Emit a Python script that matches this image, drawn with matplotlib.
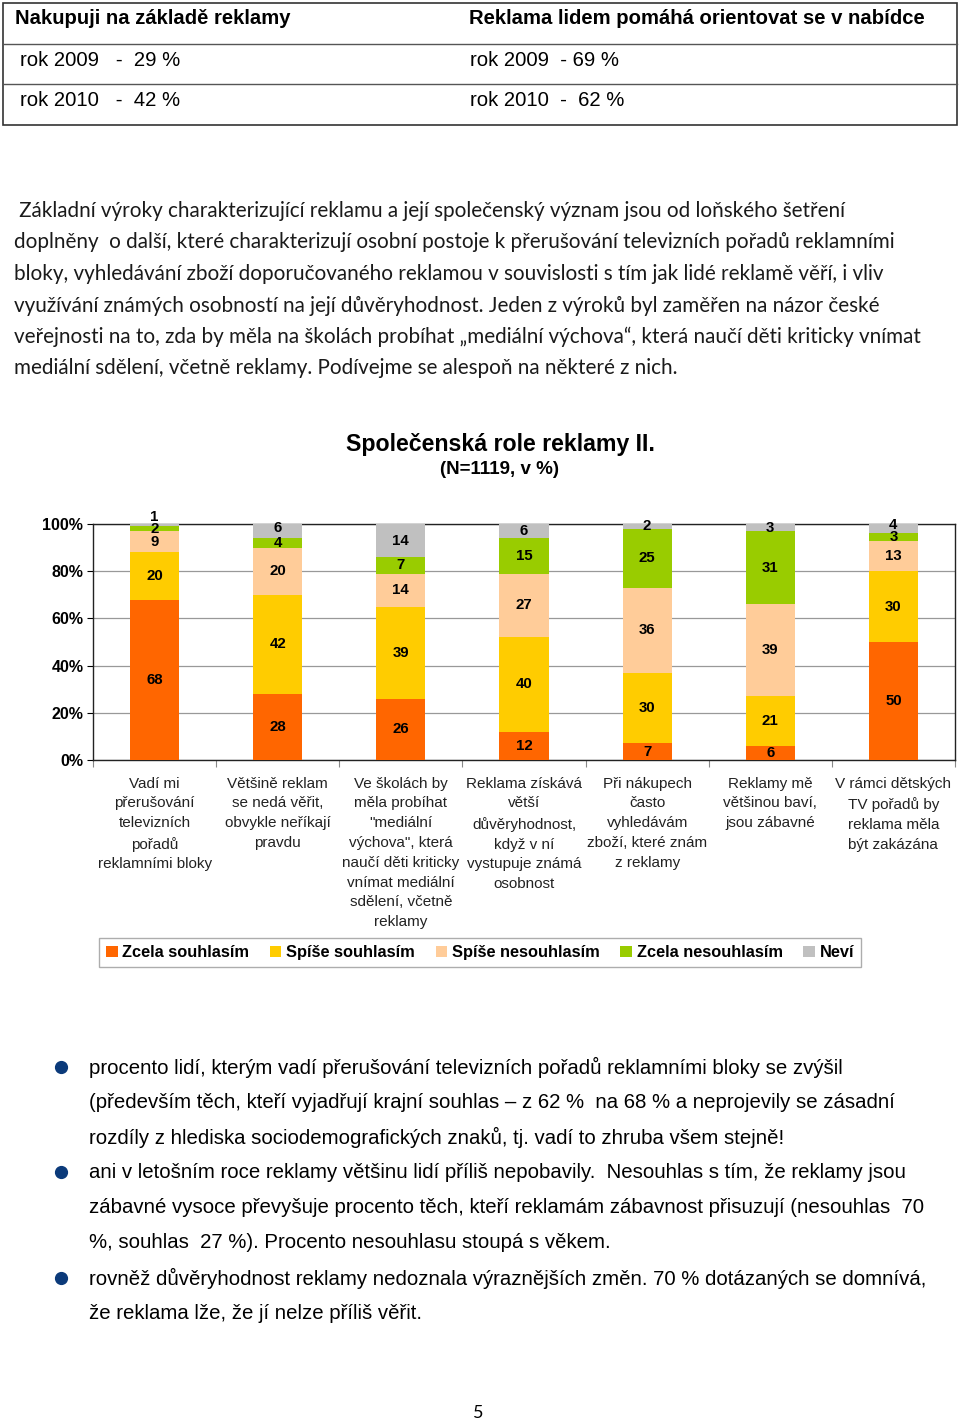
import numpy as np
import matplotlib.pyplot as plt
from matplotlib.patches import Rectangle

# --- data ---
categories = [
    "Vadí mi\npřerušování\ntelevizních\npořadů\nreklamními bloky",
    "Většině reklam\nse nedá věřit,\nobvykle neříkají\npravdu",
    "Ve školách by\nměla probíhat\n\"mediální\nvýchova\", která\nnaučí děti kriticky\nvnímat mediální\nsdělení, včetně\nreklamy",
    "Reklama získává\nvětší\ndůvěryhodnost,\nkdyž v ní\nvystupuje známá\nosobnost",
    "Při nákupech\nčasto\nvyhledávám\nzboží, které znám\nz reklamy",
    "Reklamy mě\nvětšinou baví,\njsou zábavné",
    "V rámci dětských\nTV pořadů by\nreklama měla\nbýt zakázána",
]
series_names = ["Zcela souhlasím", "Spíše souhlasím", "Spíše nesouhlasím",
                "Zcela nesouhlasím", "Neví"]
zcela_souhlasim = [68, 28, 26, 12, 7, 6, 50]
spise_souhlasim = [20, 42, 39, 40, 30, 21, 30]
spise_nesouhlasim = [9, 20, 14, 27, 36, 39, 13]
zcela_nesouhlasim = [2, 4, 7, 15, 25, 31, 3]
nevi = [1, 6, 14, 6, 2, 3, 4]
colors = ["#FF6600", "#FFCC00", "#FFCC99", "#99CC00", "#C0C0C0"]

table_head = ["Nakupuji na základě reklamy", "Reklama lidem pomáhá orientovat se v nabídce"]
table_rows = [["rok 2009   -  29 %", "rok 2009  - 69 %"],
              ["rok 2010   -  42 %", "rok 2010  -  62 %"]]

paragraph = [
    " Základní výroky charakterizující reklamu a její společenský význam jsou od loňského šetření",
    "doplněny  o další, které charakterizují osobní postoje k přerušování televizních pořadů reklamními",
    "bloky, vyhledávání zboží doporučovaného reklamou v souvislosti s tím jak lidé reklamě věří, i vliv",
    "využívání známých osobností na její důvěryhodnost. Jeden z výroků byl zaměřen na názor české",
    "veřejnosti na to, zda by měla na školách probíhat „mediální výchova“, která naučí děti kriticky vnímat",
    "mediální sdělení, včetně reklamy. Podívejme se alespoň na některé z nich.",
]

bullets = [
    ["procento lidí, kterým vadí přerušování televizních pořadů reklamními bloky se zvýšil",
     "(především těch, kteří vyjadřují krajní souhlas – z 62 %  na 68 % a neprojevily se zásadní",
     "rozdíly z hlediska sociodemografických znaků, tj. vadí to zhruba všem stejně!"],
    ["ani v letošním roce reklamy většinu lidí příliš nepobavily.  Nesouhlas s tím, že reklamy jsou",
     "zábavné vysoce převyšuje procento těch, kteří reklamám zábavnost přisuzují (nesouhlas  70",
     "%, souhlas  27 %). Procento nesouhlasu stoupá s věkem."],
    ["rovněž důvěryhodnost reklamy nedoznala výraznějších změn. 70 % dotázaných se domnívá,",
     "že reklama lže, že jí nelze příliš věřit."],
]

W, H = 960, 1426
fig = plt.figure(figsize=(W / 100, H / 100), dpi=100)

# page layer in pixel coordinates
page = fig.add_axes([0, 0, 1, 1])
page.set_xlim(0, W)
page.set_ylim(H, 0)
page.axis("off")

# top table
page.add_patch(Rectangle((3, 3), 954, 122, fill=False, edgecolor="#333333", lw=1.2))
page.plot([3, 957], [43.5, 43.5], color="#555555", lw=1)
page.plot([3, 957], [83.5, 83.5], color="#555555", lw=1)
arial = ["Liberation Sans", "DejaVu Sans"]
page.text(15, 19, table_head[0], fontsize=14.6, fontweight="bold", family=arial, va="center")
page.text(469, 19, table_head[1], fontsize=14.6, fontweight="bold", family=arial, va="center")
for i, row in enumerate(table_rows):
    y = 60 + 40 * i
    page.text(20, y, row[0], fontsize=14.6, family=arial, va="center")
    page.text(470, y, row[1], fontsize=14.6, family=arial, va="center")

# paragraph
for i, line in enumerate(paragraph):
    page.text(14, 211 + 31.5 * i, line, fontsize=14.9, family=["Lato", "DejaVu Sans"],
              va="center", color="#1a1a1a")

# chart title
page.text(500, 444, "Společenská role reklamy II.", fontsize=16.7, fontweight="bold",
          family=arial, ha="center", va="center")
page.text(500, 470, "(N=1119, v %)", fontsize=13.5, fontweight="bold",
          family=arial, ha="center", va="center")

# bullets
for b, lines in enumerate(bullets):
    start = [1067, 1172, 1278][b]
    page.plot(61, start, "o", color="#0B3A7A", markersize=8.5)
    for j, line in enumerate(lines):
        page.text(89, start + 35.2 * j, line, fontsize=14.7, family=arial, va="center")

page.text(478, 1413, "5", fontsize=13, family=["Lato", "DejaVu Sans"], ha="center", va="center")

# chart
ax = fig.add_axes([93 / W, 1 - 760 / H, 862 / W, 236 / H])
x = np.arange(len(categories))
data = [zcela_souhlasim, spise_souhlasim, spise_nesouhlasim, zcela_nesouhlasim, nevi]
bottom = np.zeros(len(categories))
handles = []
for k, (vals, name, col) in enumerate(zip(data, series_names, colors)):
    vals = np.array(vals, dtype=float)
    bars = ax.bar(x, vals, 0.4, bottom=bottom, color=col, label=name, zorder=3)
    handles.append(bars)
    for xi, v, b0 in zip(x, vals, bottom):
        yy = b0 + v / 2
        if v <= 1:
            yy += 3.5
        elif k == 4 and v <= 6 and data[3][xi] <= 4:
            yy += 1.5
        ax.text(xi, yy, f"{int(v)}", ha="center", va="center", fontsize=10.8,
                fontweight="bold", family=arial, zorder=4)
    bottom += vals

ax.set_xlim(-0.5, len(categories) - 0.5)
ax.set_ylim(0, 100)
ax.set_yticks(np.arange(0, 101, 20))
ax.set_yticklabels([f"{v}%" for v in range(0, 101, 20)], fontsize=11.5,
                   fontweight="bold", family=arial)
ax.yaxis.grid(True, color="#999999", lw=0.9, zorder=0)
ax.set_xticks(np.arange(-0.5, len(categories), 1.0))
ax.set_xticklabels([])
ax.tick_params(axis="x", length=5, color="#888888", direction="out")
ax.tick_params(axis="y", length=4, direction="out", pad=3)
for s in ax.spines.values():
    s.set_color("#222222")
    s.set_linewidth(1)

for xi, cat in zip(x, categories):
    ax.text(xi, -7.0, cat, ha="center", va="top", fontsize=11,
            family=arial, linespacing=1.53, color="#222222")

leg = fig.legend(handles=handles, labels=series_names, loc="center", ncol=5,
                 bbox_to_anchor=(480 / W, 1 - 952.5 / H), frameon=True, fancybox=False,
                 edgecolor="#999999", handlelength=0.7, handleheight=0.7,
                 handletextpad=0.3, columnspacing=1.25, borderpad=0.45,
                 prop={"family": arial, "weight": "bold", "size": 11.8})
leg.get_frame().set_linewidth(1)

fig.savefig("out.png", dpi=100)
